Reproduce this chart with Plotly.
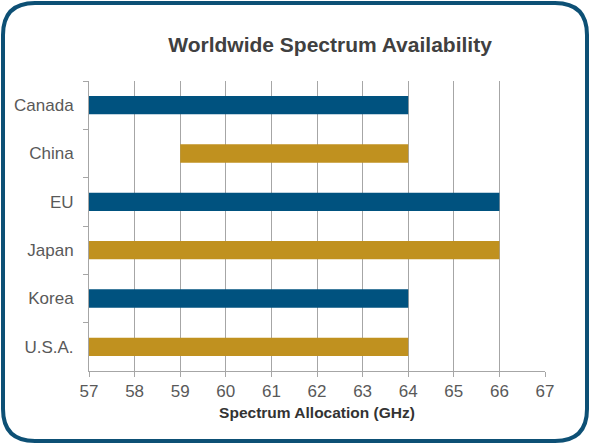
import plotly.graph_objects as go

# data
countries = ["Canada", "China", "EU", "Japan", "Korea", "U.S.A."]
start_ghz = [57, 59, 57, 57, 57, 57]
end_ghz = [64, 64, 66, 66, 64, 64]
bar_colors = ["#00527f", "#c0911f", "#00527f", "#c0911f", "#00527f", "#c0911f"]
x_ticks = list(range(57, 68))

W, H = 590, 445
L, R, T, B = 89, 45, 81, 74
pw, ph = W - L - R, H - T - B


def px(x):
    return (x - L) / pw


def py(y):
    return (H - B - y) / ph


def rounded_rect(x0, y0, x1, y1, r):
    pts = [
        f"M {px(x0 + r)} {py(y0)}",
        f"L {px(x1 - r)} {py(y0)}",
        f"Q {px(x1)} {py(y0)} {px(x1)} {py(y0 + r)}",
        f"L {px(x1)} {py(y1 - r)}",
        f"Q {px(x1)} {py(y1)} {px(x1 - r)} {py(y1)}",
        f"L {px(x0 + r)} {py(y1)}",
        f"Q {px(x0)} {py(y1)} {px(x0)} {py(y1 - r)}",
        f"L {px(x0)} {py(y0 + r)}",
        f"Q {px(x0)} {py(y0)} {px(x0 + r)} {py(y0)}",
        "Z",
    ]
    return " ".join(pts)


fig = go.Figure()
fig.add_trace(go.Bar(
    y=countries,
    x=[e - s for s, e in zip(start_ghz, end_ghz)],
    base=start_ghz,
    orientation="h",
    marker=dict(color=bar_colors, line=dict(width=0)),
    width=0.38,
    hoverinfo="skip",
))

fig.update_layout(
    width=W, height=H,
    margin=dict(l=L, r=R, t=T, b=B),
    paper_bgcolor="white",
    plot_bgcolor="white",
    showlegend=False,
    font=dict(family="Liberation Sans, Arial, sans-serif", color="#595959", size=17),
    title=dict(
        text="<b>Worldwide Spectrum Availability</b>",
        x=330 / W, xanchor="center",
        y=1 - 45 / H, yanchor="middle",
        font=dict(size=21, color="#404040"),
    ),
    xaxis=dict(
        range=[57, 67],
        tickvals=x_ticks,
        showgrid=True, gridcolor="#a6a6a6", gridwidth=1,
        showline=True, linecolor="#a6a6a6", linewidth=1,
        ticks="outside", ticklen=5, tickcolor="#a6a6a6",
        zeroline=False,
        title=dict(text="<b>Spectrum Allocation (GHz)</b>",
                   font=dict(size=15.5, color="#333333"), standoff=6),
    ),
    yaxis=dict(
        categoryorder="array", categoryarray=countries,
        autorange="reversed",
        showgrid=False,
        showline=True, linecolor="#a6a6a6", linewidth=1,
        ticks="outside", ticklen=5, tickcolor="#a6a6a6",
        tickson="boundaries",
        ticklabelstandoff=11,
    ),
    shapes=[dict(
        type="path", xref="paper", yref="paper",
        path=rounded_rect(3, 3, 587, 441, 32),
        line=dict(color="#0d5075", width=4),
        fillcolor="rgba(0,0,0,0)",
        layer="above",
    )],
)

fig.write_html("out.html", config={"displayModeBar": False},
               post_script="document.body.style.margin='0';")
